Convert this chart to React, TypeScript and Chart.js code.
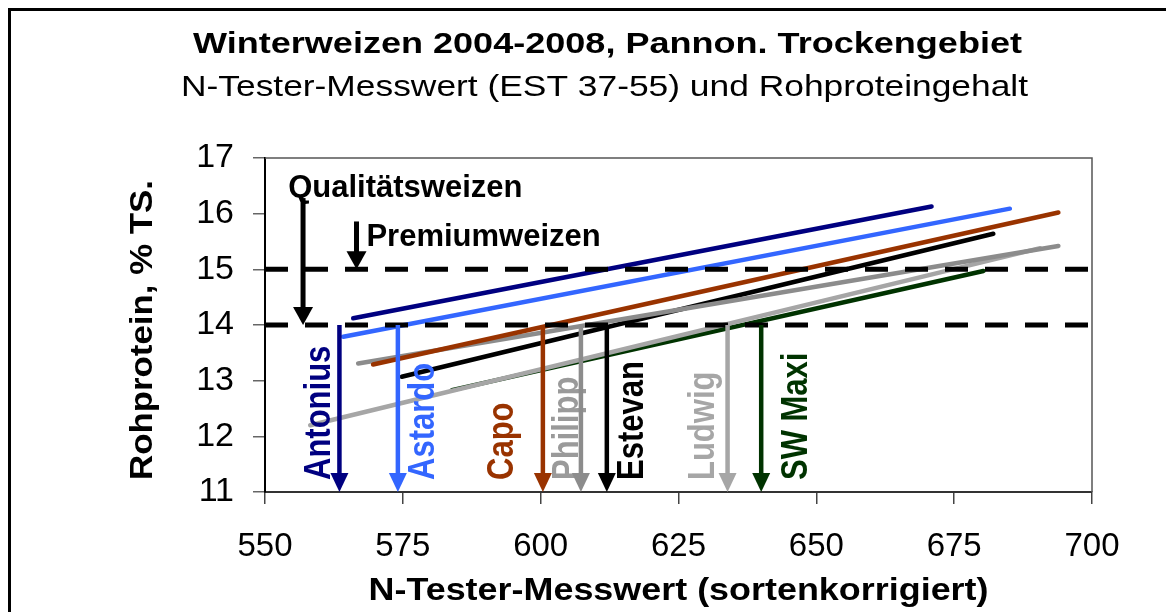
import { useEffect, useRef } from 'react';
import { Chart, registerables } from 'chart.js';

Chart.register(...registerables);

// ---- data ----
const varieties = ['Antonius', 'Astardo', 'Capo', 'Philipp', 'Estevan', 'Ludwig', 'SW Maxi'];
const startN = [566.0, 564.2, 569.6, 566.9, 574.8, 558.2, 583.9];
const startRP = [14.12, 13.79, 13.29, 13.31, 13.07, 12.2, 12.83];
const endN = [670.9, 685.1, 693.9, 693.9, 682.1, 690.6, 680.3];
const endRP = [16.13, 16.09, 16.02, 15.42, 15.64, 15.38, 14.97];
// N-Tester value at which each variety reaches 14 % protein
const nAt14 = [563.5, 574.1, 600.4, 607.3, 612.0, 633.9, 640.0];

const thresholdValues = [15, 14];
const thresholdLabels = ['Premiumweizen', 'Qualitätsweizen'];
const thresholdLabelN = [568.4, 554.2];
const thresholdLabelRP = [15.42, 16.3];
const thresholdArrowN = [566.6, 556.9];
const thresholdArrowTopRP = [15.86, 16.28];

const xTicks = [550, 575, 600, 625, 650, 675, 700];
const yTicks = [11, 12, 13, 14, 15, 16, 17];

const titleText = 'Winterweizen 2004-2008, Pannon. Trockengebiet';
const subtitleText = 'N-Tester-Messwert (EST 37-55) und Rohproteingehalt';
const xTitle = 'N-Tester-Messwert (sortenkorrigiert)';
const yTitle = 'Rohprotein, % TS.';

// ---- styles ----
const lineColors = ['#000080', '#3366FF', '#993300', '#8C8C8C', '#000000', '#A6A6A6', '#003300'];
const textColors = ['#000080', '#3366FF', '#993300', '#9A9A9A', '#000000', '#A6A6A6', '#003300'];
const labelOffsets = [-9, 36, -30, -3, 36, -14, 46];
const FONT = '"Liberation Sans", Arial, Helvetica, sans-serif';

function drawArrow(ctx: CanvasRenderingContext2D, px: number, top: number, tip: number, color: string, shaft: number, headW: number, headH: number) {
  ctx.save();
  ctx.strokeStyle = color;
  ctx.fillStyle = color;
  ctx.lineWidth = shaft;
  ctx.lineCap = 'butt';
  ctx.beginPath();
  ctx.moveTo(px, top);
  ctx.lineTo(px, tip - headH + 1);
  ctx.stroke();
  ctx.beginPath();
  ctx.moveTo(px - headW / 2, tip - headH);
  ctx.lineTo(px + headW / 2, tip - headH);
  ctx.lineTo(px, tip);
  ctx.closePath();
  ctx.fill();
  ctx.restore();
}

// draws text centred on cx, stretched horizontally to the given width
function stretchedText(ctx: CanvasRenderingContext2D, text: string, cx: number, y: number, font: string, width: number) {
  ctx.save();
  ctx.font = font;
  const w = ctx.measureText(text).width;
  ctx.translate(cx, y);
  ctx.scale(width / w, 1);
  ctx.textAlign = 'center';
  ctx.textBaseline = 'alphabetic';
  ctx.fillStyle = '#000';
  ctx.fillText(text, 0, 0);
  ctx.restore();
}

const framePlugin = {
  id: 'frame',
  beforeDatasetsDraw(chart: any) {
    const { ctx, chartArea: a } = chart;
    ctx.save();
    ctx.strokeStyle = '#555';
    ctx.lineWidth = 1.5;
    ctx.beginPath();
    ctx.moveTo(a.left, a.top);
    ctx.lineTo(a.right, a.top);
    ctx.lineTo(a.right, a.bottom);
    ctx.stroke();
    ctx.restore();
  },
};

const annotPlugin = {
  id: 'annot',
  afterDatasetsDraw(chart: any) {
    const { ctx, scales, chartArea: a } = chart;
    const x = scales.x;
    const y = scales.y;
    const bottom = y.getPixelForValue(11);
    const top14 = y.getPixelForValue(14);

    // variety labels
    varieties.forEach((name, i) => {
      const px = x.getPixelForValue(nAt14[i]);
      ctx.save();
      ctx.translate(px + labelOffsets[i], bottom - 12);
      ctx.rotate(-Math.PI / 2);
      ctx.scale(1, 1.18);
      ctx.font = 'bold 31px ' + FONT;
      ctx.fillStyle = textColors[i];
      ctx.textAlign = 'left';
      ctx.textBaseline = 'alphabetic';
      ctx.fillText(name, 0, 0);
      ctx.restore();
    });
    // variety arrows
    varieties.forEach((_, i) => {
      const px = x.getPixelForValue(nAt14[i]);
      drawArrow(ctx, px, top14, bottom, lineColors[i], 4.5, 18, 19);
    });

    // threshold labels and arrows
    thresholdLabels.forEach((t, i) => {
      ctx.save();
      ctx.font = 'bold 31px ' + FONT;
      ctx.fillStyle = '#000';
      ctx.textAlign = 'left';
      ctx.textBaseline = 'alphabetic';
      ctx.fillText(t, x.getPixelForValue(thresholdLabelN[i]), y.getPixelForValue(thresholdLabelRP[i]));
      ctx.restore();
      const ax = x.getPixelForValue(thresholdArrowN[i]);
      drawArrow(ctx, ax, y.getPixelForValue(thresholdArrowTopRP[i]), y.getPixelForValue(thresholdValues[i]), '#000', 5, 20, 18);
    });

    // axis titles
    stretchedText(ctx, xTitle, (a.left + a.right) / 2, 589, 'bold 31px ' + FONT, 620);
    ctx.save();
    ctx.translate(141, (a.top + a.bottom) / 2 + 5);
    ctx.rotate(-Math.PI / 2);
    stretchedText(ctx, yTitle, 0, 0, 'bold 32px ' + FONT, 300);
    ctx.restore();

    // chart titles
    stretchedText(ctx, titleText, 596.5, 42, 'bold 29px ' + FONT, 829);
    stretchedText(ctx, subtitleText, 593.5, 85, '30px ' + FONT, 847);
  },
};

export default function App() {
  const ref = useRef<HTMLCanvasElement | null>(null);

  useEffect(() => {
    if (!ref.current) return;
    const seriesSets = varieties.map((name, i) => ({
      label: name,
      data: [
        { x: startN[i], y: startRP[i] },
        { x: endN[i], y: endRP[i] },
      ],
      showLine: true,
      borderColor: lineColors[i],
      backgroundColor: lineColors[i],
      borderWidth: 4.5,
      borderCapStyle: 'round' as const,
      pointRadius: 0,
      order: 2,
    }));
    const thresholdSets = thresholdValues.map((v, i) => ({
      label: thresholdLabels[i],
      data: [
        { x: xTicks[0], y: v },
        { x: xTicks[xTicks.length - 1], y: v },
      ],
      showLine: true,
      borderColor: '#000',
      borderWidth: 5,
      borderDash: [23, 17],
      borderCapStyle: 'butt' as const,
      pointRadius: 0,
      order: 1,
    }));

    const chart = new Chart(ref.current, {
      type: 'scatter',
      data: { datasets: [...thresholdSets, ...seriesSets] as any },
      options: {
        animation: false,
        responsive: false,
        events: [],
        layout: { padding: { top: 147, right: 82, left: 0, bottom: 0 } },
        plugins: { legend: { display: false }, tooltip: { enabled: false }, title: { display: false } },
        scales: {
          x: {
            type: 'linear',
            min: xTicks[0],
            max: xTicks[xTicks.length - 1],
            afterBuildTicks: (s: any) => { s.ticks = xTicks.map((v) => ({ value: v })); },
            afterFit: (s: any) => { s.height = 120; },
            ticks: { color: '#000', font: { size: 33, family: FONT }, padding: 23 },
            grid: { display: true, drawOnChartArea: false, drawTicks: true, tickLength: 12, color: '#444', lineWidth: 1.5 },
            border: { display: true, color: '#333', width: 2 },
            title: { display: false },
          },
          y: {
            type: 'linear',
            min: yTicks[0],
            max: yTicks[yTicks.length - 1],
            afterBuildTicks: (s: any) => { s.ticks = yTicks.map((v) => ({ value: v })); },
            afterFit: (s: any) => { s.width = 254; },
            ticks: { color: '#000', font: { size: 34, family: FONT }, padding: 19 },
            grid: { display: true, drawOnChartArea: false, drawTicks: true, tickLength: 12, color: '#666', lineWidth: 1.5 },
            border: { display: true, color: '#000', width: 2 },
            title: { display: false },
          },
        },
      },
      plugins: [framePlugin, annotPlugin],
    });
    return () => chart.destroy();
  }, []);

  return (
    <div
      style={{
        width: 1163,
        height: 601,
        borderLeft: '3px solid #000',
        borderTop: '3px solid #000',
        background: '#fff',
        overflow: 'hidden',
      }}
    >
      <canvas ref={ref} width={1163} height={601} style={{ display: 'block' }} />
    </div>
  );
}
